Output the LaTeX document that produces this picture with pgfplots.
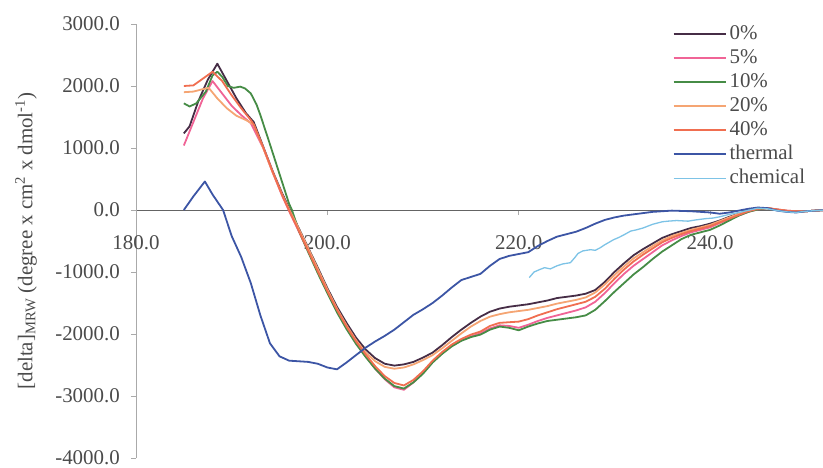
\documentclass[border=0pt]{standalone}
\usepackage{pgfplots}
\pgfplotsset{compat=1.18}
\usepackage{fontspec}
\setmainfont{Liberation Serif}
\definecolor{cA}{RGB}{70,45,70}
\definecolor{cB}{RGB}{240,100,150}
\definecolor{cC}{RGB}{70,140,70}
\definecolor{cD}{RGB}{245,165,115}
\definecolor{cE}{RGB}{240,110,80}
\definecolor{cTh}{RGB}{60,85,165}
\definecolor{cCh}{RGB}{125,195,230}
\definecolor{labgray}{RGB}{75,75,75}
\definecolor{xgray}{RGB}{100,100,100}
\definecolor{ygray}{RGB}{170,170,170}
\begin{document}
\begin{tikzpicture}
\begin{axis}[name=ax, at={(0,0)}, anchor=south west,
  scale only axis, width=687bp, height=434bp,
  xmin=180, xmax=251.8, ymin=-4000, ymax=3000, enlargelimits=false,
  axis x line=middle, axis y line=left, axis line style={-},
  x axis line style={draw=xgray, line width=0.8bp},
  y axis line style={draw=ygray, line width=0.8bp},
  hide obscured x ticks=false, hide obscured y ticks=false,
  xtick={180,200,220,240}, ytick={-4000,-3000,...,3000},
  tick align=outside, major tick length=5bp,
  tick style={draw=ygray, line width=0.8bp},
  /pgf/number format/fixed, /pgf/number format/fixed zerofill,
  /pgf/number format/precision=1, /pgf/number format/1000 sep={},
  /pgf/number format/assume math mode=true,
  tick label style={font=\fontsize{21}{25}\selectfont, text=labgray},
  xticklabel style={anchor=north, inner sep=0pt, yshift=-20bp},
  yticklabel style={anchor=east, inner sep=0pt, xshift=-11bp},
  ylabel={[delta]\textsubscript{MRW} (degree x cm\textsuperscript{2} x dmol\textsuperscript{-1})},
  every axis y label/.style={at={(axis description cs:-0.1601,0.5)}, rotate=90, anchor=center, font=\fontsize{21}{25}\selectfont, text=labgray},
  legend style={at={(0.781,1)}, anchor=north west, draw=none, fill=none,
    font=\fontsize{21}{25}\selectfont, text=labgray, row sep=4bp, column sep=3bp, inner sep=0pt,
    nodes={inner sep=0pt, text height=15bp, text depth=5bp}},
  legend cell align=left,
  legend image code/.code={\draw[#1] (0bp,0bp) -- (52bp,0bp);},
  every axis plot/.append style={line width=1.8bp, line join=round},
]
% 0%
\addplot[cA] coordinates {
(185,1235)(185.6,1350)(186.5,1750)(187.5,2100)(188.5,2360)(189.5,2080)(190.5,1800)(191.5,1560)(192.3,1420)(193.3,1020)(194.3,620)(195.3,260)(196.1,0)
(197,-290)(198,-610)(199,-930)(200,-1260)(201,-1560)(202,-1820)(203,-2060)(204,-2250)(205,-2390)(206,-2480)(207,-2510)(208,-2490)(209,-2450)(210,-2380)
(211,-2300)(212,-2180)(213,-2050)(214,-1930)(215,-1820)(216,-1720)(217,-1640)(218,-1590)(219,-1560)(220,-1540)(221,-1520)(222,-1490)(223,-1460)(224,-1420)
(225,-1400)(226,-1380)(227,-1350)(228,-1290)(229,-1160)(230,-1000)(231,-860)(232,-730)(233,-630)(234,-540)(235,-450)(236,-390)(237,-340)(238,-290)
(239,-260)(240,-220)(241,-170)(242,-110)(243,-60)(244,-10)(245,20)(246,30)(247,0)(248,-20)(249,-30)(250,-20)(251,-10)(252,0)};
\addlegendentry{0\%}
% 5%
\addplot[cB] coordinates {
(185,1040)(186,1420)(187,1800)(188,2080)(189,1880)(190,1680)(191,1530)(192,1400)(193.3,1000)(194.3,600)(195.3,220)(196.1,-50)
(197,-340)(198,-670)(199,-1000)(200,-1320)(201,-1630)(202,-1900)(203,-2150)(204,-2360)(205,-2560)(206,-2730)(207,-2860)(208,-2900)(209,-2780)(210,-2630)
(211,-2450)(212,-2310)(213,-2190)(214,-2100)(215,-2040)(216,-1990)(217,-1910)(218,-1860)(219,-1870)(220,-1900)(221,-1850)(222,-1790)(223,-1740)(224,-1700)
(225,-1660)(226,-1620)(227,-1570)(228,-1480)(229,-1340)(230,-1180)(231,-1030)(232,-900)(233,-790)(234,-680)(235,-570)(236,-490)(237,-420)(238,-360)
(239,-320)(240,-280)(241,-210)(242,-150)(243,-90)(244,-30)(245,10)(246,30)(247,10)(248,-10)(249,-20)(250,-20)(251,-10)(252,0)};
\addlegendentry{5\%}
% 10%
\addplot[cC] coordinates {
(185,1720)(185.6,1670)(186.3,1720)(187.3,1910)(188,2170)(188.5,2230)(189,2150)(189.6,2000)(190.2,1970)(190.9,1990)(191.4,1960)(192,1880)(192.6,1700)
(193,1530)(194,1060)(195,580)(196,100)(196.3,0)
(197,-330)(198,-680)(199,-1020)(200,-1340)(201,-1650)(202,-1920)(203,-2160)(204,-2370)(205,-2560)(206,-2720)(207,-2840)(208,-2880)(209,-2780)(210,-2640)
(211,-2460)(212,-2320)(213,-2200)(214,-2110)(215,-2050)(216,-2010)(217,-1930)(218,-1880)(219,-1900)(220,-1940)(221,-1880)(222,-1830)(223,-1790)(224,-1770)
(225,-1750)(226,-1730)(227,-1700)(228,-1610)(229,-1470)(230,-1320)(231,-1180)(232,-1040)(233,-920)(234,-790)(235,-670)(236,-570)(237,-470)(238,-400)
(239,-360)(240,-320)(241,-250)(242,-170)(243,-90)(244,-30)(245,10)(246,30)(247,5)(248,-15)(249,-25)(250,-20)(251,-10)(252,0)};
\addlegendentry{10\%}
% 20%
\addplot[cD] coordinates {
(185,1900)(186,1910)(187,1950)(187.6,1970)(188.5,1800)(189.5,1640)(190.5,1520)(191.5,1450)(192.3,1380)(193.3,1000)(194.3,600)(195.3,240)(196.1,-20)
(197,-300)(198,-620)(199,-950)(200,-1280)(201,-1590)(202,-1860)(203,-2100)(204,-2300)(205,-2440)(206,-2530)(207,-2560)(208,-2540)(209,-2490)(210,-2420)
(211,-2340)(212,-2230)(213,-2110)(214,-1990)(215,-1880)(216,-1790)(217,-1720)(218,-1680)(219,-1650)(220,-1630)(221,-1610)(222,-1580)(223,-1550)(224,-1510)
(225,-1480)(226,-1450)(227,-1410)(228,-1330)(229,-1200)(230,-1050)(231,-910)(232,-780)(233,-680)(234,-580)(235,-490)(236,-420)(237,-370)(238,-320)
(239,-280)(240,-240)(241,-180)(242,-120)(243,-60)(244,-10)(245,25)(246,30)(247,5)(248,-15)(249,-25)(250,-20)(251,-10)(252,0)};
\addlegendentry{20\%}
% 40%
\addplot[cE] coordinates {
(185,2000)(186,2010)(187,2120)(188,2230)(189,2080)(190,1850)(191,1640)(192,1450)(192.3,1380)(193.3,1010)(194.3,610)(195.3,230)(196.1,-40)
(197,-330)(198,-660)(199,-990)(200,-1310)(201,-1610)(202,-1880)(203,-2120)(204,-2330)(205,-2520)(206,-2680)(207,-2790)(208,-2830)(209,-2740)(210,-2600)
(211,-2430)(212,-2290)(213,-2170)(214,-2080)(215,-2010)(216,-1960)(217,-1870)(218,-1820)(219,-1810)(220,-1800)(221,-1760)(222,-1700)(223,-1650)(224,-1600)
(225,-1560)(226,-1520)(227,-1480)(228,-1400)(229,-1270)(230,-1110)(231,-960)(232,-830)(233,-720)(234,-620)(235,-520)(236,-450)(237,-390)(238,-340)
(239,-300)(240,-260)(241,-200)(242,-140)(243,-80)(244,-20)(245,20)(246,30)(247,10)(248,-10)(249,-20)(250,-20)(251,-10)(252,0)};
\addlegendentry{40\%}
% thermal
\addplot[cTh] coordinates {
(185,0)(186,220)(187.2,460)(188,250)(189.1,0)(190,-420)(191,-760)(192,-1180)(193,-1700)(194,-2150)(195,-2360)(196,-2430)(197,-2440)(198,-2450)
(199,-2480)(200,-2540)(201,-2570)(202,-2460)(203,-2340)(204,-2220)(205,-2120)(206,-2030)(207,-1930)(208,-1810)(209,-1690)(210,-1600)(211,-1500)
(212,-1380)(213,-1250)(214,-1130)(215,-1080)(216,-1030)(217,-900)(218,-790)(219,-740)(220,-710)(221,-680)(222,-580)(223,-500)(224,-430)(225,-390)
(226,-350)(227,-290)(228,-220)(229,-160)(230,-120)(231,-90)(232,-70)(233,-50)(234,-30)(235,-20)(236,-10)(237,-15)(238,-20)(239,-30)(240,-40)
(241,-60)(242,-40)(243,-10)(244,20)(245,40)(246,30)(247,-10)(248,-30)(249,-40)(250,-20)(251,-10)(252,0)};
\addlegendentry{thermal}
% chemical
\addplot[cCh, line width=1.3bp] coordinates {
(221.1,-1090)(221.6,-1000)(222.2,-960)(222.7,-930)(223.3,-950)(224,-900)(224.6,-870)(225.4,-850)(225.9,-760)(226.2,-700)(226.7,-660)(227.5,-640)
(228,-650)(228.5,-610)(229,-560)(229.9,-480)(230.5,-440)(231,-400)(231.7,-340)(232.3,-320)(233,-290)(233.5,-260)(234,-230)(235,-190)(235.6,-180)
(236.5,-170)(237.7,-180)(238.5,-160)(239.5,-140)(240.3,-130)(241,-110)(242,-70)(243,-40)(243.7,-15)(245,30)(246,20)(247,-10)(248,-30)(249,-40)
(250,-20)(251,-10)(252,0)};
\addlegendentry{chemical}
\end{axis}
\pgfresetboundingbox
\path (ax.south west) ++(-136bp,-10bp) rectangle ++(823bp,468bp);
\end{tikzpicture}
\end{document}
